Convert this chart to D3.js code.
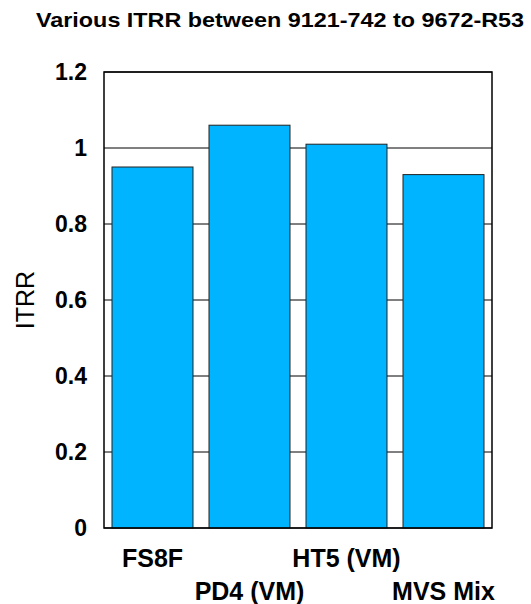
<!DOCTYPE html>
<html>
<head>
<meta charset="utf-8">
<script src="https://d3js.org/d3.v7.min.js"></script>
<style>
  body { margin: 0; background: #fff; }
  text { font-family: Arial, "Liberation Sans", sans-serif; }
</style>
</head>
<body>
<script>
var categories = ["FS8F", "PD4 (VM)", "HT5 (VM)", "MVS Mix"]
var itrr = [0.95, 1.06, 1.01, 0.93]
var yTicks = [0, 0.2, 0.4, 0.6, 0.8, 1, 1.2]

var width = 531, height = 604
var plotLeft = 104, plotRight = 492, plotTop = 72, plotBottom = 528

var svg = d3.select("body").append("svg")
  .attr("width", width)
  .attr("height", height)

var x = d3.scaleBand().domain(categories).range([plotLeft, plotRight])
  .paddingInner(0.165).paddingOuter(0.0825)
var y = d3.scaleLinear().domain([0, 1.2]).range([plotBottom, plotTop])

// gridlines behind bars
svg.append("g").selectAll("line")
  .data(yTicks)
  .enter().append("line")
    .attr("x1", plotLeft).attr("x2", plotRight)
    .attr("y1", d => y(d)).attr("y2", d => y(d))
    .attr("stroke", "#000").attr("stroke-width", 1)

svg.append("g").selectAll("rect")
  .data(itrr)
  .enter().append("rect")
    .attr("x", (d, i) => x(categories[i]))
    .attr("y", d => y(d))
    .attr("width", x.bandwidth())
    .attr("height", d => plotBottom - y(d))
    .attr("fill", "#00b4ff")
    .attr("stroke", "#222")
    .attr("stroke-width", 1)

// frame
svg.append("rect")
  .attr("x", plotLeft).attr("y", plotTop)
  .attr("width", plotRight - plotLeft).attr("height", plotBottom - plotTop)
  .attr("fill", "none").attr("stroke", "#000").attr("stroke-width", 1.5)

var yAxis = d3.axisLeft(y).tickValues(yTicks).tickSize(0).tickPadding(17)
  .tickFormat(d3.format("~g"))
var ga = svg.append("g").attr("transform", "translate(" + plotLeft + ",0)").call(yAxis)
ga.select(".domain").remove()
ga.selectAll("text")
  .style("font-size", "23px").style("font-weight", "bold")
  .style("font-family", "Arial, 'Liberation Sans', sans-serif")
  .attr("fill", "#000")

// staggered category labels
svg.append("g").selectAll("text")
  .data(categories)
  .enter().append("text")
    .attr("x", d => x(d) + x.bandwidth() / 2)
    .attr("y", (d, i) => i % 2 == 0 ? 567 : 600)
    .attr("text-anchor", "middle")
    .style("font-size", "25px").style("font-weight", "bold")
    .text(d => d)

svg.append("text")
  .attr("transform", "translate(34,300) rotate(-90)")
  .attr("text-anchor", "middle")
  .style("font-size", "25px")
  .text("ITRR")

svg.append("text")
  .attr("x", 280).attr("y", 27)
  .attr("text-anchor", "middle")
  .attr("textLength", 488).attr("lengthAdjust", "spacingAndGlyphs")
  .style("font-size", "21px").style("font-weight", "bold")
  .text("Various ITRR between 9121-742 to 9672-R53")
</script>
</body>
</html>
